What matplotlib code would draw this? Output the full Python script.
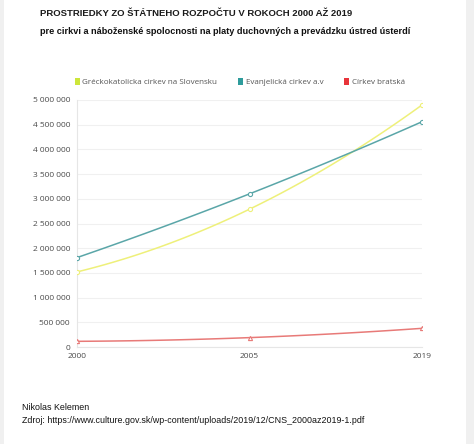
import numpy as np
import matplotlib
matplotlib.use("Agg")
import matplotlib.pyplot as plt
from matplotlib.patches import Patch, Rectangle
from matplotlib.ticker import FuncFormatter

years = ["2000", "2005", "2019"]
grecko = [1520000, 2790000, 4900000]
evanj = [1810000, 3100000, 4560000]
bratska = [115000, 190000, 378000]

names = ["Gréckokatolicka cirkev na Slovensku", "Evanjelická cirkev a.v", "Církev bratská"]
line_cols = ["#eef07a", "#5aa6a8", "#e87a78"]
legend_cols = ["#cde63a", "#2e9c9c", "#e8343a"]
markers = ["o", "o", "^"]

fig = plt.figure(figsize=(4.74, 4.44), dpi=100)
fig.patch.set_facecolor("#f0f0f0")
fig.add_artist(Rectangle((4 / 474, 0), 462 / 474, 1, transform=fig.transFigure,
                         facecolor="white", edgecolor="none", zorder=0))

ax = fig.add_axes([77 / 474, 97 / 444, 345 / 474, 247 / 444])
ax.set_facecolor("white")

x = np.arange(len(years))
xs = np.linspace(0, len(years) - 1, 100)
for vals, col, m in zip([grecko, evanj, bratska], line_cols, markers):
    # smooth curve through the points (spline-like look)
    coef = np.polyfit(x, vals, 2)
    ax.plot(xs, np.polyval(coef, xs), color=col, lw=1.1, zorder=3)
    ax.plot(x, vals, ls="none", marker=m, ms=3, mfc="white", mec=col, mew=0.8, zorder=4)

ax.set_xlim(0, len(years) - 1)
ax.set_ylim(0, 5000000)
ax.set_yticks(np.arange(0, 5000001, 500000))
ax.yaxis.set_major_formatter(FuncFormatter(lambda v, p: f"{int(v):,}".replace(",", " ")))
ax.set_xticks(x)
ax.set_xticklabels(years)
ax.tick_params(axis="both", length=0, labelsize=6, labelcolor="#4a4a4a", pad=5)
ax.tick_params(axis="x", pad=4)
for lbl in ax.get_xticklabels() + ax.get_yticklabels():
    lbl.set_fontfamily("Open Sans")
ax.get_yticklabels()[0].set_y(0)
ax.grid(axis="y", color="#f0f0f0", lw=0.8)
ax.set_axisbelow(True)
for s in ["top", "right"]:
    ax.spines[s].set_visible(False)
ax.spines["left"].set_color("#e6e6e6")
ax.spines["bottom"].set_color("#e6e6e6")

handles = [Patch(facecolor=c, edgecolor="none") for c in legend_cols]
leg = fig.legend(handles, names, loc="center left", bbox_to_anchor=(68 / 474, 1 - 82 / 444),
                 ncol=3, frameon=False, handlelength=0.55, handleheight=1.1, handletextpad=0.35,
                 columnspacing=2.6, prop={"family": "Open Sans", "size": 5.8})
for t in leg.get_texts():
    t.set_color("#555555")

fig.text(40 / 474, 1 - 13 / 444, "PROSTRIEDKY ZO ŠTÁTNEHO ROZPOČTU V ROKOCH 2000 AŽ 2019",
         fontsize=6.8, fontweight="bold", family="Liberation Sans", color="#1a1a1a", va="center")
fig.text(40 / 474, 1 - 31 / 444,
         "pre cirkvi a náboženské spolocnosti na platy duchovných a prevádzku ústred ústerdí",
         fontsize=6.6, fontweight="bold", family="Liberation Sans", color="#111111", va="center")

fig.text(22 / 474, 1 - 407 / 444, "Nikolas Kelemen", fontsize=6.4,
         family="Liberation Sans", color="#111111", va="center")
fig.text(22 / 474, 1 - 420 / 444,
         "Zdroj: https://www.culture.gov.sk/wp-content/uploads/2019/12/CNS_2000az2019-1.pdf",
         fontsize=6.4, family="Liberation Sans", color="#111111", va="center")

fig.savefig("out.png", dpi=100)
